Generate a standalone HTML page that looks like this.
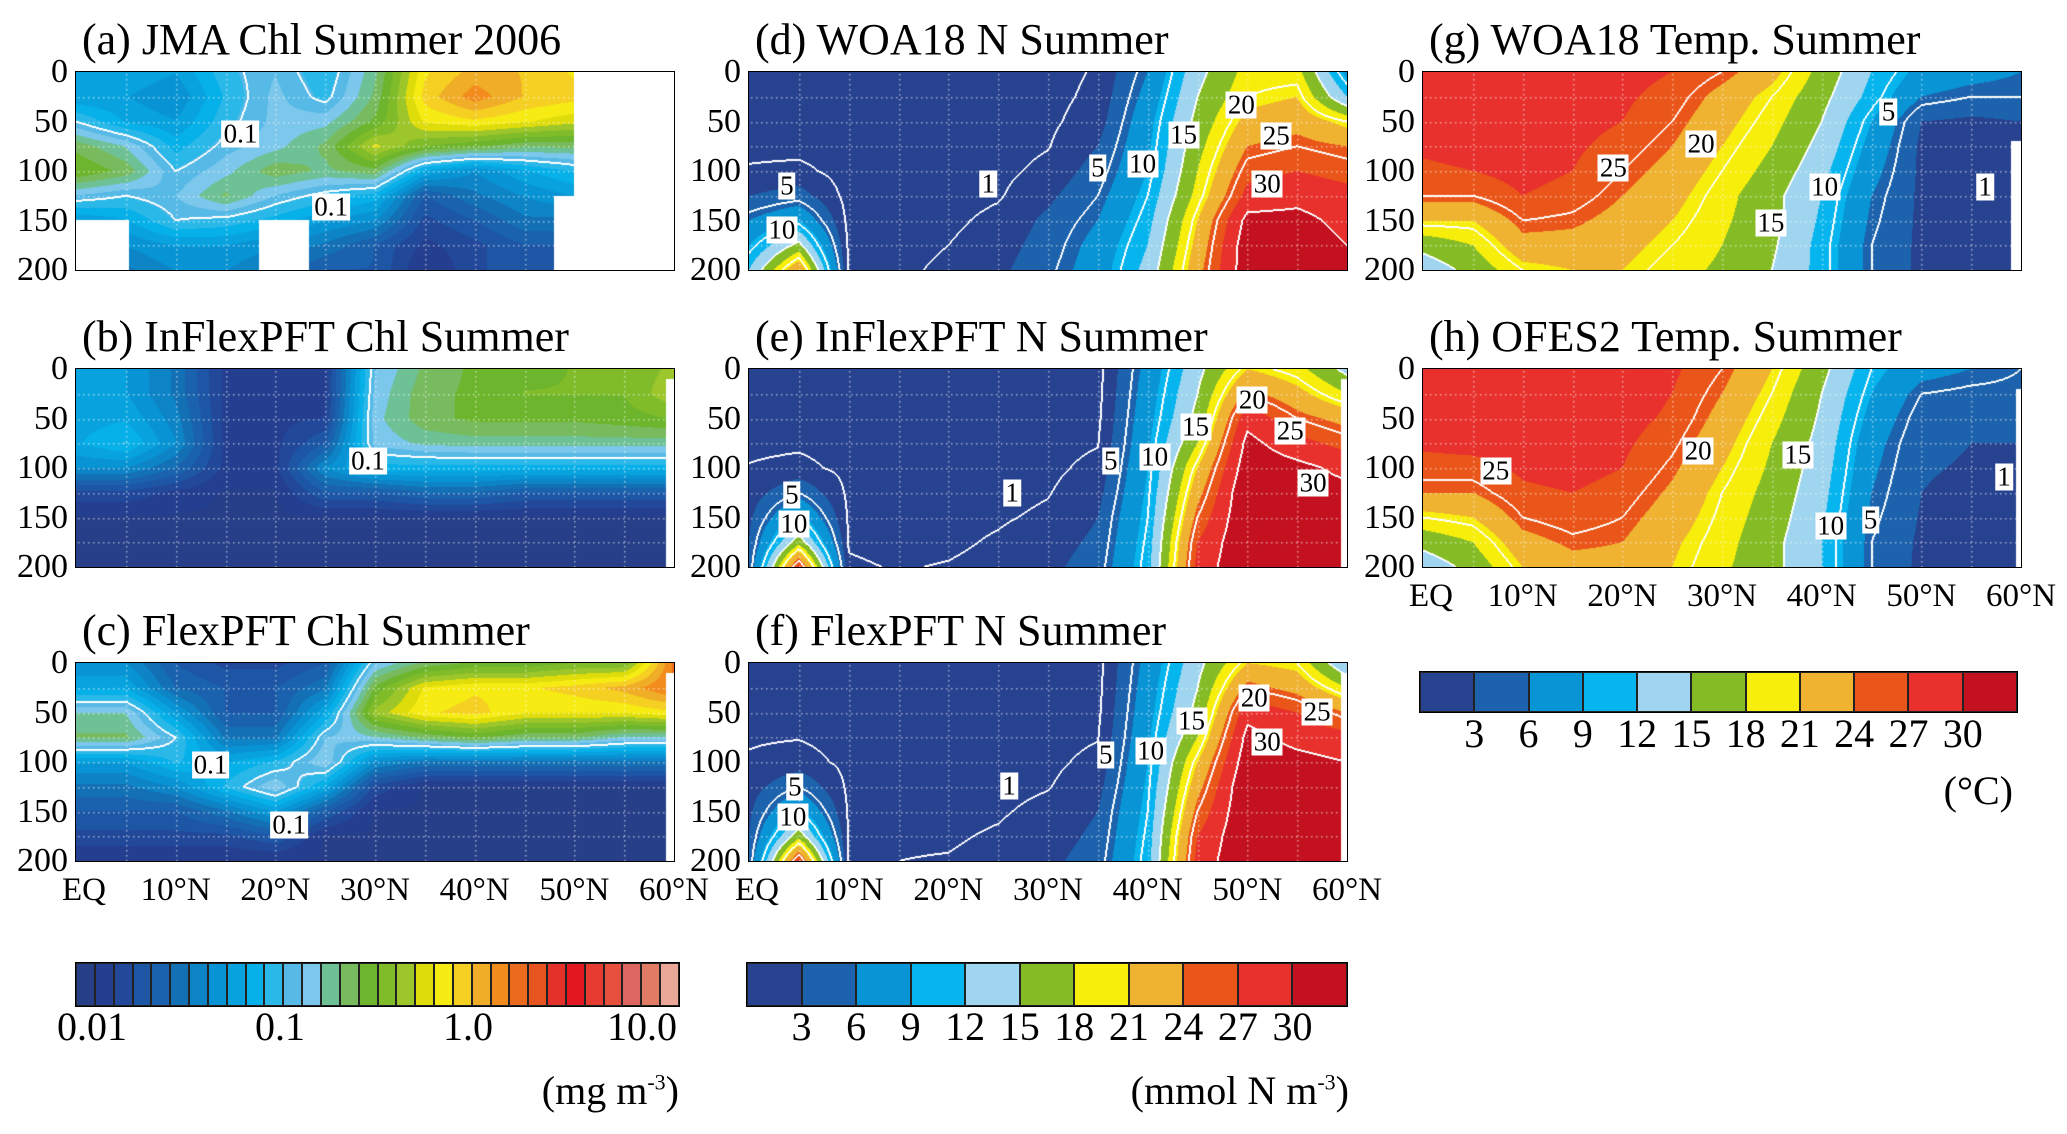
<!DOCTYPE html>
<html><head><meta charset="utf-8">
<style>
body{margin:0;background:#fff;}
#root{position:relative;width:2067px;height:1134px;overflow:hidden;background:#fff;font-family:"Liberation Serif",serif;color:#000;}
.t{position:absolute;white-space:nowrap;line-height:1;}
.title{font-size:44px;}
.yl{font-size:34px;text-align:right;width:60px;}
.xl{font-size:33px;transform:translateX(-50%);}
.cl{position:absolute;font-size:27px;background:#fff;padding:0 2px;line-height:1;transform:translate(-50%,-50%);white-space:nowrap;}
.cbl{font-size:40px;transform:translateX(-50%);}
canvas{position:absolute;}
.frame{position:absolute;border:1.5px solid #000;box-sizing:border-box;}
</style></head><body>
<div id="root"></div>
<script>
// ---------- data (rows: depth 0,25,...,200 m; cols: lat 0,5,...,60 N) ----------
const lats=[0,5,10,15,20,25,30,35,40,45,50,55,60];
const depths=[0,25,50,75,100,125,150,175,200];
const chlA=[
[0.05,0.06,0.05,0.09,0.12,0.08,0.18,0.7,1.0,0.9,0.7,0.7,0.7],
[0.05,0.05,0.04,0.08,0.13,0.09,0.2,0.8,1.3,0.9,0.8,0.8,0.8],
[0.1,0.06,0.05,0.09,0.13,0.14,0.25,0.6,0.7,0.6,0.5,0.5,0.5],
[0.22,0.15,0.07,0.11,0.14,0.2,0.5,0.3,0.25,0.2,0.2,0.2,0.2],
[0.3,0.22,0.1,0.14,0.22,0.18,0.22,0.06,0.04,0.06,0.08,0.08,0.08],
[0.12,0.1,0.12,0.2,0.12,0.09,0.07,0.02,0.03,0.04,0.05,0.05,0.05],
[0.05,0.06,0.1,0.09,0.07,0.05,0.04,0.015,0.02,0.03,0.03,0.03,0.03],
[0.04,0.04,0.05,0.05,0.04,0.03,0.02,0.012,0.015,0.02,0.02,0.02,0.02],
[0.03,0.03,0.04,0.04,0.03,0.02,0.02,0.01,0.015,0.02,0.02,0.02,0.02]];
const chlB=[
[0.05,0.05,0.03,0.012,0.012,0.012,0.12,0.2,0.25,0.28,0.3,0.3,0.4],
[0.05,0.05,0.03,0.012,0.012,0.012,0.13,0.22,0.25,0.3,0.3,0.3,0.45],
[0.055,0.06,0.035,0.012,0.012,0.013,0.14,0.22,0.25,0.25,0.25,0.27,0.3],
[0.06,0.08,0.04,0.012,0.012,0.02,0.13,0.16,0.17,0.17,0.17,0.17,0.17],
[0.04,0.04,0.025,0.012,0.012,0.04,0.07,0.07,0.07,0.07,0.07,0.07,0.07],
[0.015,0.015,0.012,0.01,0.01,0.02,0.02,0.025,0.025,0.02,0.02,0.02,0.02],
[0.01,0.01,0.01,0.01,0.01,0.01,0.01,0.01,0.01,0.01,0.01,0.01,0.01],
[0.01,0.01,0.01,0.01,0.01,0.01,0.01,0.01,0.01,0.01,0.01,0.01,0.01],
[0.01,0.01,0.01,0.01,0.01,0.01,0.01,0.01,0.01,0.01,0.01,0.01,0.01]];
const chlC=[
[0.04,0.04,0.02,0.015,0.015,0.02,0.12,0.2,0.25,0.25,0.3,0.3,1.5],
[0.06,0.06,0.025,0.02,0.02,0.03,0.25,0.6,0.7,0.7,0.8,1.0,1.5],
[0.15,0.15,0.05,0.02,0.02,0.06,0.4,0.7,0.8,0.6,0.6,0.6,0.7],
[0.2,0.2,0.1,0.03,0.03,0.12,0.15,0.2,0.25,0.2,0.2,0.15,0.15],
[0.05,0.05,0.08,0.06,0.08,0.15,0.04,0.03,0.03,0.03,0.03,0.03,0.03],
[0.03,0.03,0.04,0.08,0.15,0.06,0.015,0.01,0.01,0.01,0.01,0.01,0.01],
[0.02,0.02,0.02,0.03,0.05,0.02,0.01,0.01,0.01,0.01,0.01,0.01,0.01],
[0.015,0.015,0.015,0.015,0.02,0.01,0.01,0.01,0.01,0.01,0.01,0.01,0.01],
[0.01,0.01,0.01,0.01,0.01,0.01,0.01,0.01,0.01,0.01,0.01,0.01,0.01]];
const nD=[
[0.2,0.1,0.1,0.1,0.1,0.1,0.3,1.2,6,14,19,19,8],
[0.2,0.1,0.1,0.1,0.1,0.1,0.4,1.5,7,15,20,21,12],
[0.3,0.2,0.1,0.1,0.1,0.2,0.6,2,8,16,22,23,20],
[0.5,0.4,0.1,0.1,0.1,0.3,0.9,3,8.5,17,24,25,24],
[1.2,1.5,0.2,0.2,0.2,0.5,1.5,4,9,18,26,27,26],
[3,4,0.3,0.3,0.3,0.8,2.5,5,10,19,28,29,28],
[6,9,0.4,0.4,0.6,1.5,3.5,6,11,21,31,31,29],
[9,16,0.6,0.5,1.0,2,4,7,12,22,32,32,30],
[12,24,0.8,0.7,1.3,2.5,4.5,7.5,13,23,32,32,30]];
const nE=[
[0.3,0.2,0.1,0.1,0.1,0.1,0.1,0.3,7,14,21,19,14],
[0.3,0.2,0.1,0.1,0.1,0.1,0.1,0.4,7.5,15,25,22,18],
[0.4,0.4,0.2,0.1,0.1,0.1,0.2,0.6,8,16,29,25,23],
[0.6,0.7,0.3,0.1,0.1,0.2,0.4,0.9,8.5,18,31,28,26],
[1.1,1.5,0.5,0.2,0.2,0.3,0.6,1.5,9,21,32,31,29],
[1.8,5,0.6,0.3,0.3,0.5,0.9,2.2,9.5,23,33,32,31],
[2.5,10,0.7,0.4,0.5,0.8,1.3,3,10,25,33,33,32],
[3,17,0.85,0.6,0.7,1.2,2,3.5,10.5,27,33,33,33],
[3.5,28,1.2,0.9,1.1,1.5,2.5,4,11,28,33,33,33]];
const nF=[
[0.3,0.2,0.1,0.1,0.1,0.1,0.1,0.3,7,14,21,20,12],
[0.4,0.3,0.1,0.1,0.1,0.1,0.1,0.4,7.5,15,25,23,18],
[0.6,0.5,0.2,0.1,0.1,0.1,0.2,0.6,8,16,29,27,24],
[0.8,0.9,0.3,0.2,0.1,0.2,0.4,0.9,8.5,18,31,29,28],
[1.2,1.8,0.5,0.3,0.2,0.3,0.6,1.5,9,21,32,31,30],
[2,5,0.6,0.4,0.3,0.5,0.9,2.2,9.5,23,33,32,31],
[2.5,10,0.7,0.6,0.5,0.8,1.5,3,10,25,33,33,32],
[3,17,0.8,0.8,0.8,1.2,2,3.5,10.5,27,33,33,32],
[3.5,28,0.9,1,1.1,1.5,2.5,4,11,28,33,33,31]];
const tG=[
[29,29,29,28.5,28,27,25,22,17,12,8,7,6],
[29,29,29,28.5,27.5,26,23,20,16,11,6,5,5],
[28.5,28.5,28.8,28,27,25,22,19,15,9,3,2.5,3],
[27.5,28,28.5,27.5,26,24,21,18,14,8,2.5,2,2],
[26.5,27,28,27,25,23,20,17,13,7,2.5,2,1.8],
[25,25,27,26,24,22,19,16,12,6,2.5,2,1.5],
[21,21,25,24.5,23,21,18.5,16,11.5,5.5,2.5,1.8,1],
[16,18,23,23,22,20,18,15.5,11,5,2.5,1.8,1],
[13,16,20,21,21,19,17.5,15,11,5,2.5,1.8,1]];
const tH=[
[29,29.5,29.5,29,28.5,27.5,25,21,16,10,7,6,5],
[29,29.5,29.5,29,28.5,27,24,20,15,9,5,4.5,4.5],
[28.5,29,29,28.5,28,26.5,23,19,14.5,8,4,3.5,3.5],
[27.5,28,28.5,28.5,27.5,25.5,22,18,14,7,3.5,3,3],
[26,26,27.5,28,27,24.5,21,17.5,13.5,6.5,3.2,2.8,2.5],
[24,24,26.5,27,26,23.5,20,17,13,6,3,2.5,2],
[20,21,25,26,25,22.5,19.5,16.5,12.5,5.5,2.8,2.3,1.8],
[16,18,23,24.5,24,21.5,19,16,12,5,2.6,2.2,1.5],
[13,16,21,23,23,21,18.5,16,12,5,2.5,2,1.2]];
const chlColors=["#263f88","#243f90","#22489a","#1d56a5","#1a62ad","#1470b5","#0d84c6","#0894d4","#08a3de","#06b0e8","#2ab8e8","#56b9e6","#7cc7ec","#6ec194","#78bb5f","#6db52c","#80bc2a","#9cc62a","#dedc0a","#f6ec14","#f5d022","#f0ae28","#f28c1c","#ea6a1e","#e85420","#e4322a","#e3171f","#e73a30","#e8503e","#de6660","#e07c64","#eba898"];
const binColors=["#27428f","#1c62ac","#0995d5","#07b5ee","#9fd5ef","#85bc26","#f7ee0c","#efb231","#ea5619","#e8312c","#c3111f"];
const binTicks=[3,6,9,12,15,18,21,24,27,30];
const chlTicks=["0.01","0.1","1.0","10.0"];
const yTicks=[0,50,100,150,200];
const xTicks=["EQ","10°N","20°N","30°N","40°N","50°N","60°N"];
const chlContours=[0.1], nContours=[1,5,10,15,20,25,30], tContours=[1,5,10,15,20,25];

const panels=[
{id:"a",title:"(a) JMA Chl Summer 2006",x:76,y:72,grid:chlA,type:"chl",masks:[[50,61,-1,201],[0,5.3,150,201],[18.4,23.4,150,201],[48,50,125,201]],labels:[[16.5,63,"0.1"],[25.6,136,"0.1"]]},
{id:"b",title:"(b) InFlexPFT Chl Summer",x:76,y:369,grid:chlB,type:"chl",masks:[[59.2,61,10,201]],labels:[[29.3,93,"0.1"]]},
{id:"c",title:"(c) FlexPFT Chl Summer",x:76,y:663,grid:chlC,type:"chl",masks:[[59.2,61,10,201]],labels:[[13.5,103,"0.1"],[21.4,164,"0.1"]],xt:true},
{id:"d",title:"(d) WOA18 N Summer",x:749,y:72,grid:nD,type:"n",masks:[],labels:[[24,113,"1"],[3.8,115,"5"],[3.3,160,"10"],[35,97,"5"],[39.5,93,"10"],[43.6,64,"15"],[49.4,33,"20"],[52.9,65,"25"],[52,113,"30"]]},
{id:"e",title:"(e) InFlexPFT N Summer",x:749,y:369,grid:nE,type:"n",masks:[[59.4,61,10,201]],labels:[[4.3,127,"5"],[4.5,157,"10"],[26.4,125,"1"],[36.3,93,"5"],[40.7,89,"10"],[44.8,59,"15"],[50.5,31,"20"],[54.3,63,"25"],[56.6,115,"30"]]},
{id:"f",title:"(f) FlexPFT N Summer",x:749,y:663,grid:nF,type:"n",masks:[[59.4,61,10,201]],labels:[[4.6,125,"5"],[4.4,156,"10"],[26.1,124,"1"],[35.8,93,"5"],[40.3,89,"10"],[44.4,59,"15"],[50.7,35,"20"],[52,80,"30"],[57,49,"25"]],xt:true},
{id:"g",title:"(g) WOA18 Temp. Summer",x:1423,y:72,grid:tG,type:"t",masks:[[59,61,70,201]],labels:[[19.1,97,"25"],[27.9,73,"20"],[34.9,153,"15"],[40.3,116,"10"],[46.7,40,"5"],[56.4,116,"1"]]},
{id:"h",title:"(h) OFES2 Temp. Summer",x:1423,y:369,grid:tH,type:"t",masks:[[59.5,61,20,201]],labels:[[7.3,103,"25"],[27.6,83,"20"],[37.6,87,"15"],[40.9,159,"10"],[44.9,153,"5"],[58.3,109,"1"]],xt:true}
];
const W=598,H=198;
const root=document.getElementById('root');
function div(cls,txt,l,t,name){const d=document.createElement('div');d.className=cls;if(txt!==null)d.textContent=txt;d.style.left=l+'px';d.style.top=t+'px';


root.appendChild(d);return d;}
function sample(grid,lat,dep,log){
  let c=Math.min(Math.max(lat/5,0),11.9999),r=Math.min(Math.max(dep/25,0),7.9999);
  const c0=Math.floor(c),r0=Math.floor(r),fc=c-c0,fr=r-r0;
  const f=v=>log?Math.log10(v):v;
  return f(grid[r0][c0])*(1-fc)*(1-fr)+f(grid[r0][c0+1])*fc*(1-fr)+f(grid[r0+1][c0])*(1-fc)*fr+f(grid[r0+1][c0+1])*fc*fr;
}
function hex(h){return [parseInt(h.substr(1,2),16),parseInt(h.substr(3,2),16),parseInt(h.substr(5,2),16)];}
const chlRGB=chlColors.map(hex),binRGB=binColors.map(hex);
panels.forEach(p=>{
  const log=p.type==="chl";
  const levels=(log?chlContours.map(v=>Math.log10(v)):(p.type==="n"?nContours:tContours));
  const cv=document.createElement('canvas');cv.width=W;cv.height=H;cv.style.left=p.x+'px';cv.style.top=p.y+'px';
  
  
  root.appendChild(cv);
  const ctx=cv.getContext('2d');const img=ctx.createImageData(W,H);
  const F=new Float32Array(W*H);
  for(let j=0;j<H;j++)for(let i=0;i<W;i++)F[j*W+i]=sample(p.grid,(i+0.5)/W*60,(j+0.5)/H*200,log);
  const cnt=v=>{let k=0;for(const L of levels)if(v>=L)k++;return k;};
  for(let j=0;j<H;j++)for(let i=0;i<W;i++){
    const v=F[j*W+i];let rgb;
    if(log){let idx=Math.floor(0.87+(v+2)*10.27);idx=Math.max(0,Math.min(31,idx));rgb=chlRGB[idx];}
    else{let idx=Math.floor(v/3);idx=Math.max(0,Math.min(10,idx));rgb=binRGB[idx];}
    const k=cnt(v);let line=false;
    if(i+1<W&&cnt(F[j*W+i+1])!==k)line=true;
    if(j+1<H&&cnt(F[(j+1)*W+i])!==k)line=true;
    if(i>0&&cnt(F[j*W+i-1])!==k)line=true;
    if(j>0&&cnt(F[(j-1)*W+i])!==k)line=true;
    const lat=(i+0.5)/W*60,dep=(j+0.5)/H*200;
    let masked=p.masks.some(m=>lat>=m[0]&&lat<m[1]&&dep>=m[2]&&dep<m[3]);
    const o=(j*W+i)*4;
    if(masked||line){img.data[o]=img.data[o+1]=img.data[o+2]=255;}
    else{img.data[o]=rgb[0];img.data[o+1]=rgb[1];img.data[o+2]=rgb[2];}
    img.data[o+3]=255;
  }
  ctx.putImageData(img,0,0);
  ctx.fillStyle='rgba(255,255,255,0.55)';
  for(let la=5;la<60;la+=5){const x=Math.round(la/60*W);for(let y=2;y<H;y+=5)ctx.fillRect(x,y,1.5,1.5);}
  for(let d=25;d<200;d+=25){const y=Math.round(d/200*H);for(let x=2;x<W;x+=5)ctx.fillRect(x,y,1.5,1.5);}
  const fr=div('frame',null,p.x-1,p.y-1,'panel-'+p.id+'-frame');fr.style.width=(W+2)+'px';fr.style.height=(H+2)+'px';
  div('t title',p.title,p.x+6,p.y-54,'panel-'+p.id+'-title');
  yTicks.forEach(v=>{div('t yl',String(v),p.x-68,p.y+v/200*H-17,'panel-'+p.id+'-y-tick-'+v);});
  p.labels.forEach(l=>{div('cl',l[2],p.x+l[0]/60*W,p.y+l[1]/200*H,'contour-label-'+p.id);});
  if(p.xt){xTicks.forEach((s,k)=>{div('t xl',s,p.x+k*10/60*W+(k===0?8:0),p.y+H+13,'panel-'+p.id+'-x-tick-'+k);});}
});
function colorbar(x,y,w,h,colors,name){
  const n=colors.length,bw=w/n;
  colors.forEach((c,k)=>{const d=document.createElement('div');d.style.cssText=`position:absolute;left:${x+k*bw}px;top:${y}px;width:${bw}px;height:${h}px;background:${c};box-sizing:border-box;border:1px solid #222;`;
  
  
  root.appendChild(d);});
  const f=div('frame',null,x-1,y-1,name+'-frame');f.style.width=(w+2)+'px';f.style.height=(h+2)+'px';
}
colorbar(76,963,603,43,chlColors,'chl-colorbar');
const chlTickPos=[92,280,468,642];
chlTicks.forEach((s,k)=>div('t cbl',s,chlTickPos[k],1007,'chl-colorbar-label'));
div('t cbl','',0,1071,'chl-units').innerHTML='(mg m<sup style="font-size:22px">-3</sup>)';
root.lastChild.style.left='';root.lastChild.style.right=(2067-679)+'px';root.lastChild.style.transform='none';
colorbar(747,963,600,43,binColors,'n-colorbar');
binTicks.forEach((v,k)=>div('t cbl',String(v),747+(k+1)*600/11,1007,'n-colorbar-label'));
div('t cbl','',0,1071,'n-units').innerHTML='(mmol N m<sup style="font-size:22px">-3</sup>)';
root.lastChild.style.left='';root.lastChild.style.right=(2067-1349)+'px';root.lastChild.style.transform='none';
colorbar(1420,672,597,40,binColors,'temp-colorbar');
binTicks.forEach((v,k)=>div('t cbl',String(v),1420+(k+1)*597/11,714,'temp-colorbar-label'));
div('t cbl','(°C)',0,771,'temp-units');
root.lastChild.style.left='';root.lastChild.style.right=(2067-2013)+'px';root.lastChild.style.transform='none';
</script>
</body></html>
